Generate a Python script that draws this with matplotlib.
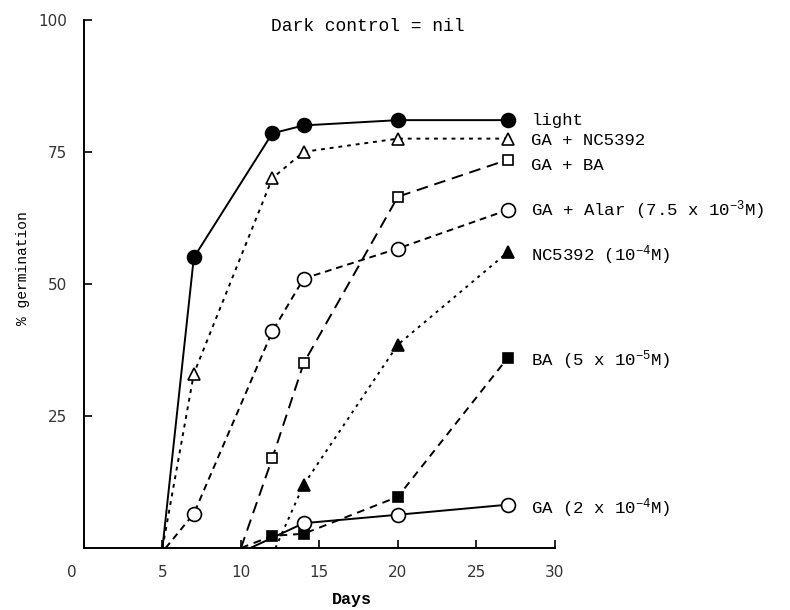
import matplotlib.pyplot as plt
from matplotlib import transforms

plt.rcParams['font.family'] = ['Liberation Mono', 'DejaVu Sans Mono']
plt.rcParams['mathtext.fontset'] = 'custom'
plt.rcParams['mathtext.rm'] = 'Liberation Mono'
plt.rcParams['mathtext.it'] = 'Liberation Mono'

##########
########## Donnees
##########

days_light = [5, 7, 12, 14, 20, 27]
germ_light = [0, 55, 78.5, 80, 81, 81]

days_ga_nc = [5, 7, 12, 14, 20, 27]
germ_ga_nc = [0, 33, 70, 75, 77.5, 77.5]

days_ga_ba = [10, 12, 14, 20, 27]
germ_ga_ba = [0, 17, 35, 66.5, 73.5]

days_ga_alar = [5.2, 7, 12, 14, 20, 27]
germ_ga_alar = [0, 6.5, 41, 51, 56.7, 64]

days_nc = [12.2, 14, 20, 27]
germ_nc = [0, 12, 38.5, 56]

days_ba = [10, 12, 14, 20, 27]
germ_ba = [0, 2.3, 2.7, 9.7, 36]

days_ga = [10.6, 14, 20, 27]
germ_ga = [0, 4.7, 6.3, 8.2]

labels = ["light", "GA + NC5392", "GA + BA",
          r"GA + Alar (7.5 x 10$^{-3}$M)", r"NC5392 (10$^{-4}$M)",
          r"BA (5 x 10$^{-5}$M)", r"GA (2 x 10$^{-4}$M)"]
label_y = [81, 77.2, 72.5, 64, 55.5, 35.6, 7.5]

xticks = [0, 5, 10, 15, 20, 25, 30]
yticks = [25, 50, 75, 100]

##########
########## Figure
##########

fig = plt.figure(figsize=(7.9, 6.1), dpi=100)
ax = fig.add_axes([0.1063, 0.1016, 0.596, 0.866])

series = [
    (days_light, germ_light, '-', 'o', 'black'),
    (days_ga_nc, germ_ga_nc, (0, (2, 2.5)), '^', 'white'),
    (days_ga_ba, germ_ga_ba, (0, (6, 3.5)), 's', 'white'),
    (days_ga_alar, germ_ga_alar, (0, (3.5, 2.5)), 'o', 'white'),
    (days_nc, germ_nc, (0, (1.5, 2.5)), '^', 'black'),
    (days_ba, germ_ba, (0, (4, 3)), 's', 'black'),
    (days_ga, germ_ga, '-', 'o', 'white'),
]
msize = {'o': 10, '^': 8.5, 's': 7.5}

for x, y, ls, m, fc in series:
    ax.plot(x, y, color='black', linestyle=ls, linewidth=1.4)
    # pas de marqueur au point zero
    ax.plot(x[1:], y[1:], linestyle='none', marker=m, markersize=msize[m],
            markerfacecolor=fc, markeredgecolor='black', markeredgewidth=1.2)

for i in range(len(labels)):
    ax.text(28.5, label_y[i], labels[i], fontsize=12.5, va='center',
            ha='left', clip_on=False)

ax.set_xlim(0, 30)
ax.set_ylim(0, 100)
ax.set_xticks(xticks)
ax.set_yticks(yticks)
ax.tick_params(direction='in', length=6, width=1.2, labelsize=11, pad=12,
               labelcolor='#333333')
for t in ax.get_xticklabels() + ax.get_yticklabels():
    t.set_family(['DejaVu Sans'])
off = transforms.ScaledTranslation(-0.12, 0, fig.dpi_scale_trans)
xl = ax.get_xticklabels()
xl[0].set_transform(xl[0].get_transform() + off)

ax.spines['top'].set_visible(False)
ax.spines['right'].set_visible(False)
ax.spines['left'].set_linewidth(1.4)
ax.spines['bottom'].set_linewidth(1.4)

ax.set_xlabel("Days", fontsize=12, fontweight='bold')
ax.xaxis.set_label_coords(0.569, -0.098)
ax.xaxis.label.set_va('center')
ax.set_ylabel("% germination", fontsize=10.5)
ax.yaxis.set_label_coords(-0.115, 0.53)
fig.text(0.465, 0.956, "Dark control = nil", fontsize=13, ha='center',
         va='center')

fig.savefig("out.png", dpi=100, facecolor='white')
